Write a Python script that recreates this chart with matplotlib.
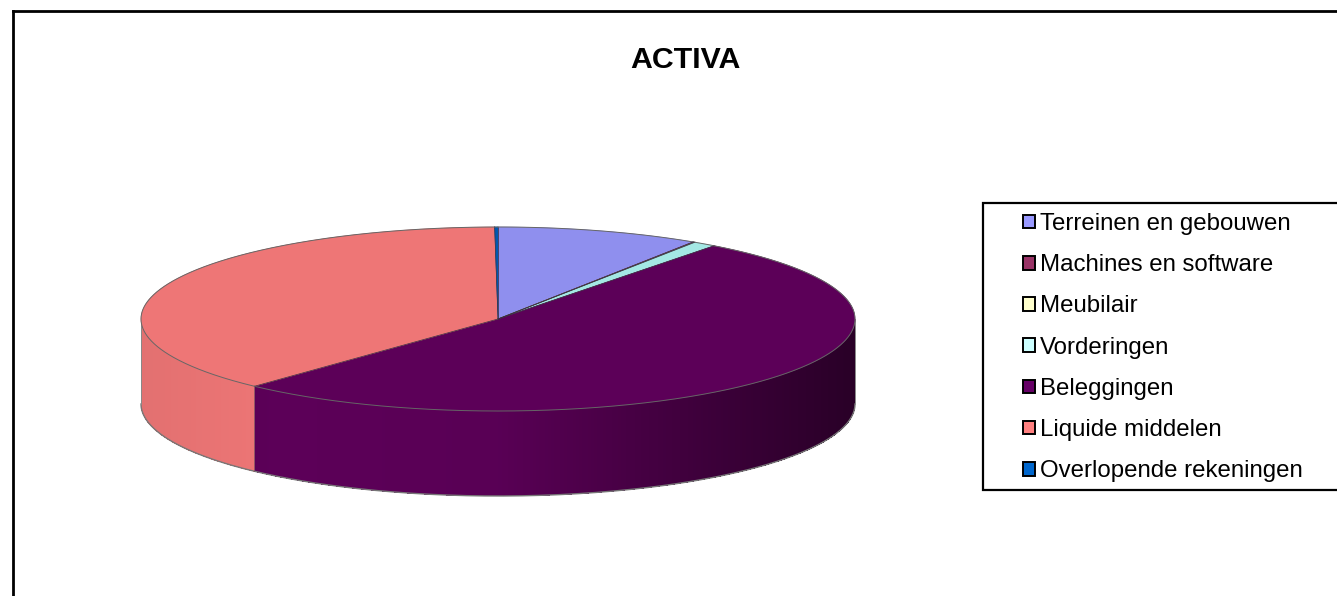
import numpy as np
import matplotlib
matplotlib.use("Agg")
import matplotlib.pyplot as plt
from matplotlib.patches import Patch, Polygon, Rectangle
from matplotlib.colors import to_rgb

plt.rcParams['font.family'] = ['Liberation Sans', 'DejaVu Sans']

title = "ACTIVA"
categories = ["Terreinen en gebouwen", "Machines en software", "Meubilair", "Vorderingen",
              "Beleggingen", "Liquide middelen", "Overlopende rekeningen"]
values = [9.2, 0.05, 0.05, 1.05, 51.6, 37.9, 0.15]
legend_colors = ["#9999ff", "#993366", "#ffffcc", "#ccffff", "#660066", "#ff8080", "#0066cc"]
top_colors = ["#8f8fee", "#8f2f5f", "#eeeebe", "#a4e8e4", "#5c0058", "#ee7676", "#0058b0"]

W, H = 1337, 596
fig = plt.figure(figsize=(W / 100, H / 100), dpi=100, facecolor="white")
ax = fig.add_axes([0, 0, 1, 1])
ax.set_xlim(0, W)
ax.set_ylim(H, 0)
ax.axis("off")

cx, cy, rx, ry, depth = 498, 319, 357, 92, 85


def pt(deg, dy=0.0):
    t = np.radians(deg)
    return cx + rx * np.sin(t), cy - ry * np.cos(t) + dy


def wall_shade(color, x):
    """Side of the disc: shaded with position, dark towards the right."""
    c = np.array(to_rgb(color))
    u = (x - cx) / rx
    if u < -0.6:
        f = 1.0 + 0.12 * (u + 0.6)
    elif u < 0.0:
        f = 1.0 - 0.06 * (u + 0.6)
    else:
        f = 0.964 - 0.52 * u
    return tuple(np.clip(c * f, 0, 1))


edges = np.concatenate([[0], np.cumsum(values)]) / np.sum(values) * 360

# side wall, lower half of the disc
for i, col in enumerate(top_colors):
    a0, a1 = max(edges[i], 90), min(edges[i + 1], 270)
    if a1 <= a0:
        continue
    for s in np.arange(a0, a1, 0.5):
        e = min(s + 0.5, a1)
        p1, p2 = pt(s), pt(e)
        p3, p4 = pt(e, depth), pt(s, depth)
        shade = wall_shade(col, (p1[0] + p2[0]) / 2)
        ax.add_patch(Polygon([p1, p2, p3, p4], closed=True, fc=shade, ec="none", lw=0,
                             antialiased=False, zorder=2))

# outline of the wall
th = np.linspace(90, 270, 300)
bx, by = pt(th, depth)
ax.plot(bx, by, color="#777777", lw=1.0, zorder=3)
for a in (90, 270):
    x0, y0 = pt(a)
    ax.plot([x0, x0], [y0, y0 + depth], color="#888888", lw=0.7, zorder=3)
x0, y0 = pt(edges[5])
ax.plot([x0, x0], [y0, y0 + depth], color="#6a4a60", lw=0.5, zorder=3)

# top face
for i, col in enumerate(top_colors):
    a = np.linspace(edges[i], edges[i + 1], max(3, int(values[i] * 12)))
    xs, ys = pt(a)
    poly = np.column_stack([np.r_[cx, xs], np.r_[cy, ys]])
    ax.add_patch(Polygon(poly, closed=True, fc=col, ec=col, lw=0.4, zorder=4))
    ax.plot(np.r_[cx, xs[0]], np.r_[cy, ys[0]], color="#3a3040", lw=0.5, zorder=5)
    ax.plot(xs, ys, color="#666666", lw=0.7, zorder=5)

# outer chart frame (runs past the right and bottom edges)
ax.plot([13, 13], [H + 5, 11], color="black", lw=2.0, zorder=1)
ax.plot([13, W + 5], [11, 11], color="black", lw=2.0, zorder=1)

ax.text(685.5, 60, title, ha="center", va="center", fontsize=21.8, fontweight="bold", color="black")

# legend box runs past the right edge
ax.add_patch(Rectangle((983, 203), 400, 287, fc="white", ec="black", lw=1.6, zorder=6))
handles = [Patch(facecolor=c, edgecolor="black", linewidth=1.4) for c in legend_colors]
leg = ax.legend(handles, categories, loc="upper left", bbox_to_anchor=(1023 / W, 1 - 213 / H),
                bbox_transform=fig.transFigure, fontsize=17.3, frameon=False, borderaxespad=0,
                borderpad=0, labelspacing=0.8, handlelength=0.5, handleheight=0.5,
                handletextpad=0.2, labelcolor="black")
leg.set_zorder(7)
fig.savefig("out.png", dpi=100, facecolor="white")
